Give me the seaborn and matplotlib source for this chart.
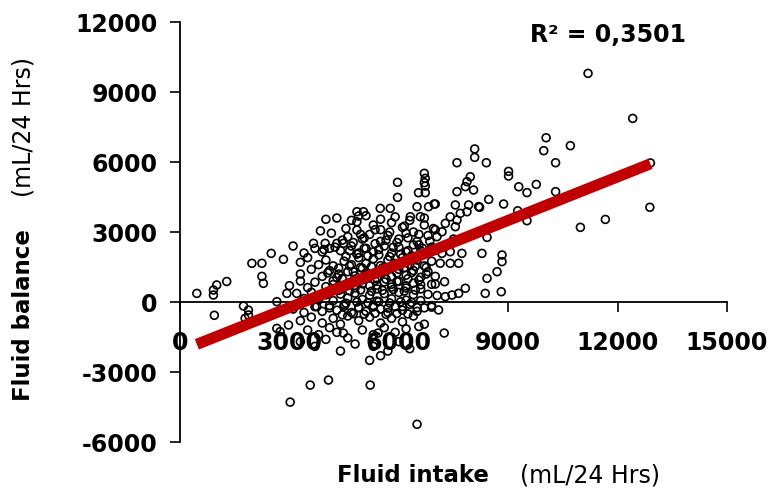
import numpy as np
import matplotlib
matplotlib.use('Agg')
import matplotlib.pyplot as plt
import seaborn as sns

# ---------------------------------------------------------------
# data (mL / 24 Hrs)
# ---------------------------------------------------------------
x_ticks = [0, 3000, 6000, 9000, 12000, 15000]
y_ticks = [-6000, -3000, 0, 3000, 6000, 9000, 12000]

# sparse points / outliers
outer_intake = [460, 915, 1005, 1280, 915, 940, 1740, 1875, 1875, 1785,
                1970, 2245, 2245, 2285, 2500, 2835, 2655, 2930, 3200,
                2655, 2975, 2745, 3020, 3570, 4070, 5215, 6500, 7245,
                11190, 12415, 10040, 9975, 10705, 8080, 8080, 7595, 8400, 10300,
                9010, 9010, 7960, 7870, 8050, 7595, 9290, 9515, 9770, 10300,
                8465, 8215, 8875, 7000, 12885, 11665, 10980, 9260, 9515, 8420,
                12900, 7825, 7640, 7460, 7275, 7255, 7090, 8830, 8695, 8420,
                8370, 8810, 7135, 7410, 7640, 8280, 7730, 8830, 7410, 7185,
                7185, 7045, 7550, 7410, 7550, 7275, 7915, 7870, 8190,
                6700, 6700, 6540, 6725, 5965, 5965, 6970, 7825, 7685, 7595,
                4000, 4850, 5030, 4895, 5490, 5765, 6315, 6500, 6590, 6815,
                4850, 4850, 3660, 3980, 4300, 4480, 6725, 6725]
outer_balance = [370, 515, 730, 880, 300, -570, -170, -345, -555, -700,
                 1660, 1660, 1100, 800, 2085, 1830, 15, 370, 370,
                 -1130, -985, -1270, -4290, -3560, -3345, -3560, -5240, -1330,
                 9800, 7870, 7040, 6485, 6700, 6560, 6200, 5970, 5970, 5970,
                 5600, 5400, 5370, 5160, 4800, 4730, 4940, 4690, 5040, 4730,
                 4400, 4060, 4200, 4200, 4060, 3540, 3200, 3910, 3485, 2770,
                 5960, 590, 370, 300, 230, 870, -340, 1730, 1300, 1015,
                 370, 440, 1660, 1660, 1660, 2085, 2085, 2015, 2155, 2085,
                 3010, 2800, 4160, 3650, 3230, 3370, 4160, 3870, 4090,
                 5515, 5115, 4685, 4685, 5130, 4485, 4200, 4945, 3800, 3515,
                 3545, 3870, 3870, 3685, 4015, 4015, 3655, 4085, 3655, 4085,
                 3440, 3085, 2515, 2515, 2515, 2515, 5300, 4970]

# dense central cloud, row by row from the bottom up
core_intake = [3300, 3700, 4000, 4400, 4800, 5300, 5500, 5700, 6000, 6300, 5200, 4600, 4480, 5430,
               3500, 3800, 4100, 4300, 5000, 5300, 5600, 5900, 6200, 6550,
               3300, 3600, 3900, 4200, 4400, 4600, 4900, 5200, 5500, 5800, 6100, 6400, 6700,
               3100, 3400, 3700, 3900, 4100, 4300, 4500, 4700, 4900, 5100, 5300, 5500, 5700,
               5900, 6100, 6300, 6500, 6700, 6900,
               3400, 3600, 3800, 4000, 4200, 4400, 4600, 4800, 5000, 5200, 5400, 5600, 5800,
               6000, 6200, 6400, 6600, 6800, 7050,
               3000, 3300, 3500, 3700, 4000, 4200, 4400, 4600, 4800, 5000, 5200, 5400, 5600,
               5800, 6000, 6200, 6400, 6600, 6900,
               3300, 3600, 3900, 4100, 4300, 4600, 4800, 5000, 5200, 5400, 5600, 5800, 6000,
               6200, 6400, 6600, 6800, 7000,
               3300, 3500, 3800, 4000, 4200, 4500, 4700, 4900, 5100, 5300, 5500, 5700, 5900,
               6100, 6300, 6500, 6700, 6900,
               3100, 3400, 3700, 3900, 4100, 4400, 4700, 4900, 5100, 5300, 5600, 5800, 6000,
               6200, 6400, 6600, 6900,
               4600, 5000, 5200, 5500, 5700, 6000, 6200, 6500, 6800, 7500,
               5300, 5500, 5800, 6100, 6400, 6700, 7000,
               4450, 4750, 5050, 5350, 5650, 5950, 6250, 6550, 6850,
               4550, 4850, 5150, 5450, 5750, 6050, 6350, 6650,
               4350, 4650, 4950, 5250, 5550, 5850, 6150, 6450, 6750,
               4450, 4750, 5050, 5350, 5650, 5950, 6250, 6550,
               4350, 4650, 4950, 5250, 5550, 5850, 6150, 6450,
               4550, 4850, 5150, 5450, 5750, 6050, 6350,
               4450, 4750, 5050, 5350, 5650, 5950, 6250,
               3850, 4150, 4550, 4950, 5350, 5750, 6150, 6550, 6950,
               3950, 4250, 4650, 5050, 5450, 5850, 6250, 6650, 7050,
               4050, 4350, 4750, 5150, 5550, 5950, 6350, 6750,
               4200, 4600, 5000, 5400, 5800, 6200, 6600, 7000,
               3750, 4100, 4500, 4900, 5300, 5700, 6100, 6500, 6900,
               4300, 4700, 5100, 5500, 5900, 6300, 6700]
core_balance = [-1700, -1900, -1600, -2100, -1800, -1900, -2300, -2100, -1700, -2000, -2500, -1540, -1330, -1330,
                -1200, -1400, -1100, -1300, -1200, -1400, -1100, -1300, -1150, -1050,
                -800, -650, -900, -700, -950, -600, -800, -650, -900, -700, -850, -600, -950,
                -300, -450, -200, -400, -150, -350, -100, -450, -250, -400, -150, -300, -450,
                -200, -350, -100, -400, -250, -150,
                150, 420, 90, 310, 60, 340, 170, 380, 110, 290, 40, 360, 140,
                410, 80, 320, 60, 330, 280,
                700, 900, 620, 850, 660, 910, 540, 800, 610, 950, 700, 560, 860,
                640, 890, 600, 810, 560, 760,
                1200, 1400, 1100, 1350, 1050, 1300, 1120, 1450, 1200, 1010, 1300, 1090, 1400,
                1150, 1350, 1060, 1300, 1100,
                1700, 1900, 1600, 1800, 1550, 1750, 1600, 1900, 1650, 1850, 1560, 1800, 1650,
                1900, 1600, 1800, 1550, 1750,
                2400, 2100, 2300, 2150, 2300, 2200, 2400, 2100, 2300, 2150, 2400, 2100, 2350,
                2150, 2450, 2200, 2350,
                2800, 2700, 2900, 2600, 2850, 2700, 2950, 2600, 2850, 2700,
                3300, 3100, 3400, 3200, 3000, 3300, 3100,
                2650, 2550, 2750, 2500, 2650, 2550, 2750, 2450, 2600,
                1950, 2050, 1980, 2020, 1950, 2050, 1980, 2030,
                1450, 1550, 1480, 1520, 1460, 1540, 1470, 1530, 1480,
                1000, 900, 1000, 920, 980, 880, 1000, 940,
                500, 480, 520, 460, 500, 540, 470, 510,
                -50, 0, -30, 20, -40, 10, -20,
                -550, -500, -520, -480, -530, -490, -510,
                3050, 2950, 3150, 2900, 3100, 3000, 3250, 2900, 3150,
                2250, 2350, 2200, 2300, 2250, 2350, 2200, 2300, 2250,
                1250, 1200, 1300, 1220, 1280, 1240, 1260, 1200,
                750, 700, 780, 720, 760, 690, 740, 770,
                -200, -250, -180, -230, -210, -260, -190, -240, -220,
                3600, 3500, 3700, 3550, 3650, 3500, 3600]

fluid_intake = outer_intake + core_intake
fluid_balance = outer_balance + core_balance

# linear trend as printed on the chart
trend_slope = 0.622
trend_intercept = -2100
r2_text = 'R² = 0,3501'

# ---------------------------------------------------------------
# plot
# ---------------------------------------------------------------
sns.set_style('white')
plt.rcParams['font.family'] = ['DejaVu Sans']
plt.rcParams['axes.unicode_minus'] = False
plt.rcParams['text.color'] = 'black'
plt.rcParams['xtick.color'] = 'black'
plt.rcParams['ytick.color'] = 'black'

fig = plt.figure(figsize=(7.68, 4.91), dpi=100)
ax = fig.add_axes([0.2297, 0.0855, 0.7311, 0.8839])

sns.scatterplot(x=fluid_intake, y=fluid_balance, ax=ax, marker='o', s=32,
                facecolor='none', edgecolor='black', linewidth=1.2, zorder=3)

# trend line from smallest to largest intake
trend_x = np.array([min(fluid_intake), max(fluid_intake)])
trend_y = trend_slope * trend_x + trend_intercept
sns.lineplot(x=trend_x, y=trend_y, ax=ax, color='#c00000', linewidth=8,
             solid_capstyle='butt', zorder=4)

ax.set_xlim(-100, 15300)
ax.set_ylim(-6300, 12300)

# axes cross at the origin
for side in ['top', 'right']:
    ax.spines[side].set_visible(False)
ax.spines['left'].set_position(('data', 0))
ax.spines['bottom'].set_position(('data', 0))
ax.spines['left'].set_bounds(-6000, 12000)
ax.spines['bottom'].set_bounds(0, 15000)
for side in ['left', 'bottom']:
    ax.spines[side].set_color('black')
    ax.spines[side].set_linewidth(1.3)

ax.set_xticks(x_ticks)
ax.set_yticks(y_ticks)
ax.tick_params(axis='both', bottom=True, left=True, direction='out',
               length=7, width=1.2, color='black', labelcolor='black', labelsize=17)
ax.tick_params(axis='x', pad=14)
ax.tick_params(axis='y', pad=9)
for lbl in ax.get_xticklabels() + ax.get_yticklabels():
    lbl.set_fontweight('bold')

ax.set_xlabel('')
ax.set_ylabel('')

# axis titles: bold name + plain units
fig.text(337 / 768, 1 - 475 / 491, 'Fluid intake', fontsize=16.5, fontweight='bold',
         ha='left', va='center')
fig.text(520 / 768, 1 - 475 / 491, '(mL/24 Hrs)', fontsize=17,
         ha='left', va='center')
fig.text(24 / 768, 1 - 315 / 491, 'Fluid balance', fontsize=16.5, fontweight='bold',
         rotation=90, ha='center', va='center')
fig.text(24 / 768, 1 - 127 / 491, '(mL/24 Hrs)', fontsize=17,
         rotation=90, ha='center', va='center')

fig.text(530 / 768, 1 - 35 / 491, r2_text, fontsize=17, fontweight='bold',
         ha='left', va='center')

plt.savefig('out.png', dpi=100)
